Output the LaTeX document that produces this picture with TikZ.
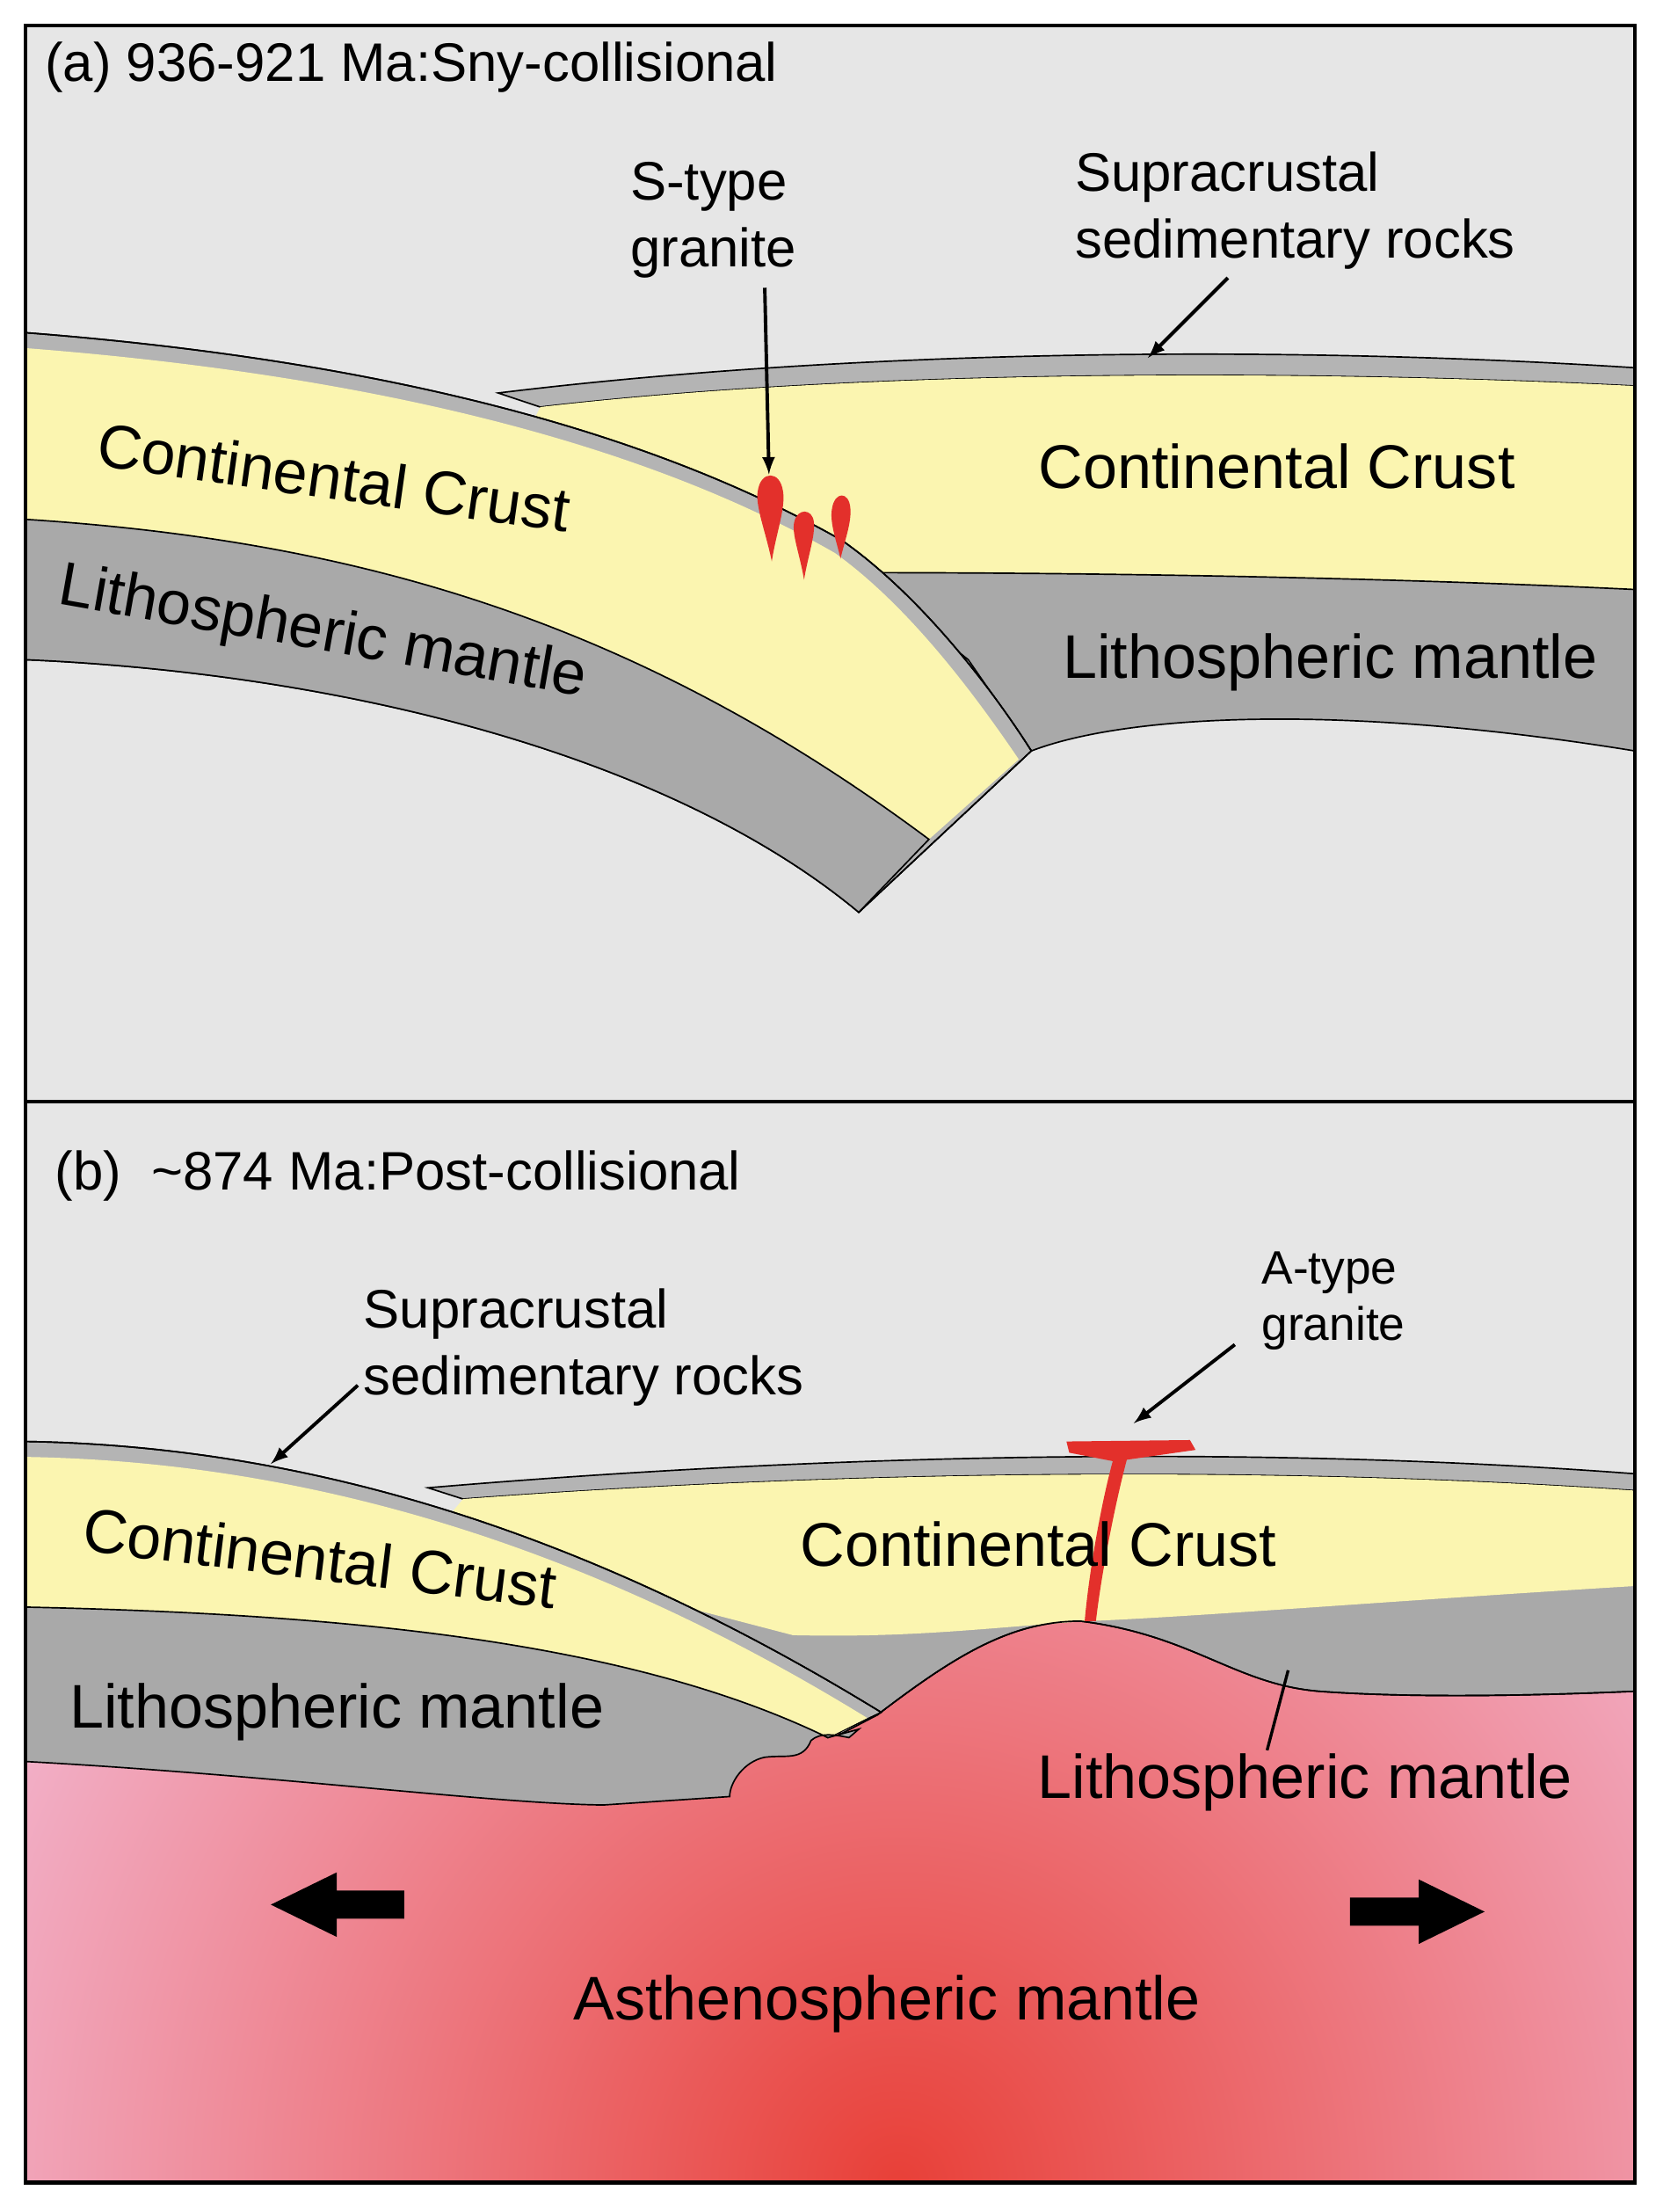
\documentclass[tikz,border=0pt]{standalone}
\usepackage{fontspec}
\setmainfont{Liberation Sans}
\begin{document}
\begin{tikzpicture}[x=0.02cm,y=-0.02cm,
 big/.style={font=\fontsize{25}{30}\selectfont},
 mid/.style={font=\fontsize{22}{27}\selectfont,align=left},
 sml/.style={font=\fontsize{19}{23}\selectfont,align=left},
 sed/.style={fill=sedgray,draw=black,line width=0.6pt},
 crust/.style={fill=crustyellow},
 mant/.style={fill=mantgray,draw=black,line width=0.6pt},
 lead/.style={-latex,line width=1.4pt}]
\definecolor{bggray}{HTML}{E6E6E6}
\definecolor{sedgray}{HTML}{B4B4B4}
\definecolor{crustyellow}{HTML}{FBF5B0}
\definecolor{mantgray}{HTML}{A9A9A9}
\definecolor{granred}{HTML}{E3302B}
\definecolor{astpink}{HTML}{F2B0C8}
\definecolor{astred}{HTML}{E84038}
\useasboundingbox (0,0) rectangle (1185,1576);
\fill[white] (0,0) rectangle (1185,1576);
% ---------- panel a ----------
\fill[bggray] (18,18) rectangle (1165,785);
% right plate
\path[sed] (355,280) .. controls (600,250) and (900,245) .. (1165,262) -- (1165,275) .. controls (900,262) and (600,265) .. (385,290) -- cycle;
\path[crust] (385,290) .. controls (600,265) and (900,262) .. (1165,275) -- (1165,420) .. controls (900,412) and (700,408) .. (612,408) -- (450,330) -- (380,300) -- cycle;
\path[mant] (600,398) -- (612,408) .. controls (800,408) and (1000,412) .. (1165,420) -- (1165,535) .. controls (950,500) and (800,510) .. (735,535) -- (690,470) -- cycle;
% slab
\path[sed] (18,237) .. controls (250,255) and (450,300) .. (600,385) .. controls (650,420) and (700,480) .. (735,535) -- (612,650) .. controls (480,540) and (250,480) .. (18,470) -- cycle;
\path[crust] (18,248) .. controls (250,266) and (450,311) .. (595,394) .. controls (645,430) and (690,488) .. (726,541) -- (662,598) .. controls (450,440) and (250,385) .. (18,370) -- cycle;
\path[mant] (18,370) .. controls (250,385) and (450,440) .. (662,598) -- (612,650) .. controls (480,540) and (250,480) .. (18,470) -- cycle;
\draw[line width=0.6pt] (18,237) .. controls (250,255) and (450,300) .. (600,385) .. controls (650,420) and (700,480) .. (735,535) -- (612,650);
% granites
\fill[granred] (550,400) .. controls (546,380) and (538,360) .. (540,350) .. controls (542,335) and (556,335) .. (558,350) .. controls (560,362) and (553,380) .. cycle;
\fill[granred] (573,413) .. controls (570,395) and (564,380) .. (566,372) .. controls (568,362) and (579,362) .. (580,372) .. controls (581,382) and (576,395) .. cycle;
\fill[granred] (599,398) .. controls (596,385) and (591,372) .. (593,362) .. controls (595,350) and (605,350) .. (606,362) .. controls (607,372) and (602,385) .. cycle;
\draw[line width=1.5pt] (18,18) rectangle (1165,785);
% texts a
\node[mid,anchor=west] (ta) at (26,48) {(a) 936-921 Ma:Sny-collisional};
\node[mid,anchor=west] (st) at (443,157) {S-type\\granite};
\coordinate (stt) at (548,338);
\draw[lead] (545,205) -- (stt);
\node[mid,anchor=west] (su) at (760,150) {Supracrustal\\sedimentary rocks};
\coordinate (sut) at (818,255);
\draw[lead] (875,198) -- (sut);
\node[big,rotate=-8] (cc1) at (238,340) {Continental Crust};
\node[big] (cc2) at (910,332) {Continental Crust};
\node[big,rotate=-10] (lm1) at (230,452) {Lithospheric mantle};
\node[big] (lm2) at (948,472) {Lithospheric mantle};
% ---------- panel b ----------
\fill[bggray] (18,785) rectangle (1165,1555);
\begin{scope}
\clip (18,1140) rectangle (1165,1555);
\shade[outer color=astpink,inner color=astred] (640,1555) circle (700);
\end{scope}
% right plate
\path[sed] (305,1060) .. controls (600,1035) and (900,1030) .. (1165,1050) -- (1165,1062) .. controls (900,1044) and (600,1048) .. (330,1068) -- cycle;
\path[mant] (420,1115) -- (565,1160) .. controls (650,1163) and (700,1157) .. (775,1152) .. controls (850,1150) and (1000,1138) .. (1165,1128) -- (1165,1205) .. controls (1050,1210) and (980,1208) .. (940,1205) .. controls (880,1200) and (850,1165) .. (770,1155) .. controls (720,1155) and (680,1180) .. (625,1222) -- (600,1235) -- (480,1200) -- cycle;
\path[crust] (330,1068) .. controls (600,1048) and (900,1044) .. (1165,1062) -- (1165,1130) .. controls (1000,1140) and (850,1152) .. (775,1155) .. controls (700,1160) and (650,1167) .. (565,1165) -- (450,1135) -- (320,1080) -- cycle;
\draw[line width=0.6pt] (1165,1205) .. controls (1050,1210) and (980,1208) .. (940,1205) .. controls (880,1200) and (850,1165) .. (770,1155) .. controls (720,1155) and (680,1180) .. (625,1222);
% left plate
\path[sed] (18,1027) .. controls (200,1030) and (400,1080) .. (628,1220) -- (590,1238) .. controls (450,1170) and (250,1150) .. (18,1145) -- cycle;
\path[crust] (18,1038) .. controls (200,1041) and (400,1090) .. (618,1224) -- (590,1238) .. controls (450,1170) and (250,1150) .. (18,1145) -- cycle;
\path[mant] (18,1145) .. controls (250,1150) and (450,1170) .. (590,1238) -- (612,1232) -- (605,1238) .. controls (595,1236) and (585,1234) .. (578,1240) .. controls (572,1255) and (560,1250) .. (545,1252) .. controls (530,1255) and (520,1270) .. (520,1280) -- (430,1286) .. controls (350,1285) and (200,1265) .. (18,1255) -- cycle;
\draw[line width=0.6pt] (18,1027) .. controls (200,1030) and (400,1080) .. (628,1220);
% A-type granite
\fill[granred] (760,1027) -- (848,1026) -- (852,1033) -- (803,1040) .. controls (795,1070) and (785,1120) .. (781,1155) -- (773,1155) .. controls (776,1120) and (785,1070) .. (793,1041) -- (762,1035) -- cycle;
% arrows
\fill[black] (193,1357) -- (240,1334) -- (240,1347) -- (288,1347) -- (288,1367) -- (240,1367) -- (240,1380) -- cycle;
\fill[black] (1058,1362) -- (1011,1339) -- (1011,1352) -- (962,1352) -- (962,1372) -- (1011,1372) -- (1011,1385) -- cycle;
\draw[line width=1.5pt] (18,785) rectangle (1165,1555);
% texts b
\node[mid,anchor=west] (tb) at (33,838) {(b) \ \textasciitilde874 Ma:Post-collisional};
\node[mid,anchor=west] (su2) at (253,960) {Supracrustal\\sedimentary rocks};
\coordinate (su2t) at (193,1043);
\draw[lead] (255,987) -- (su2t);
\node[sml,anchor=west] (at) at (893,927) {A-type\\granite};
\coordinate (att) at (808,1014);
\draw[lead] (880,958) -- (att);
\node[big,rotate=-7] (cc3) at (228,1110) {Continental Crust};
\node[big] (cc4) at (740,1100) {Continental Crust};
\node[big] (lm3) at (240,1220) {Lithospheric mantle};
\node[big] (lm4) at (930,1270) {Lithospheric mantle};
\coordinate (lmt) at (918,1190);
\draw[line width=1.2pt] (903,1247) -- (lmt);
\node[big] (as) at (632,1428) {Asthenospheric mantle};
\end{tikzpicture}
\end{document}
